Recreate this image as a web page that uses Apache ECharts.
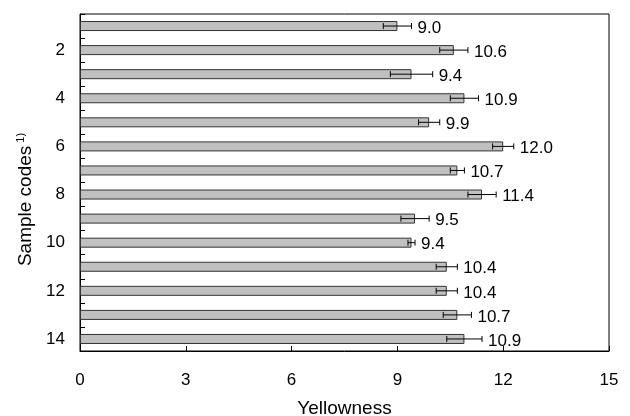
<!DOCTYPE html>
<html>
<head>
<meta charset="utf-8">
<script src="https://cdn.jsdelivr.net/npm/echarts@6/dist/echarts.min.js"></script>
<style>
    html, body { margin: 0; padding: 0; background: #fff; }
    #yellowChart { width: 630px; height: 416px; }
</style>
</head>
<body>
<div id="yellowChart"></div>
<script>
    // sample codes 1..14, mean yellowness and error (half width of bar)
    var sampleCodes = ['1', '2', '3', '4', '5', '6', '7', '8', '9', '10', '11', '12', '13', '14']
    var yellowness = [9.0, 10.6, 9.4, 10.9, 9.9, 12.0, 10.7, 11.4, 9.5, 9.4, 10.4, 10.4, 10.7, 10.9]
    var errors = [0.4, 0.4, 0.6, 0.4, 0.3, 0.3, 0.2, 0.4, 0.4, 0.1, 0.3, 0.3, 0.4, 0.5]
    var xTicks = [0, 3, 6, 9, 12, 15]

    var font = "'Liberation Sans', Arial, sans-serif"

    var errData = yellowness.map(function (v, i) {
        return [v, i, errors[i]]
    })

    var myChart = echarts.init(document.getElementById('yellowChart'))
    var options = {
        animation: false,
        grid: {
            left: 80,
            right: 21,
            top: 14,
            bottom: 65,
            outerBoundsMode: 'none',
            show: true,
            borderColor: '#000',
            borderWidth: 1
        },
        xAxis: {
            type: 'value',
            min: xTicks[0],
            max: xTicks[xTicks.length - 1],
            interval: 3,
            name: 'Yellowness',
            nameLocation: 'middle',
            nameGap: 48,
            nameTextStyle: { fontSize: 19, color: '#000', fontFamily: font },
            axisLine: { show: true, lineStyle: { color: '#000', width: 1 } },
            axisTick: { show: true, inside: true, length: 5, lineStyle: { color: '#000' } },
            axisLabel: { margin: 21, fontSize: 17, color: '#000', fontFamily: font },
            splitLine: { show: false }
        },
        yAxis: {
            type: 'category',
            inverse: true,
            data: sampleCodes,
            name: 'Sample codes{sup|1)}',
            nameLocation: 'middle',
            nameGap: 44,
            nameRotate: 90,
            nameTextStyle: {
                fontSize: 19,
                color: '#000',
                fontFamily: font,
                padding: [0, 34, 0, 0],
                rich: {
                    sup: { fontSize: 11, color: '#000', fontFamily: font, verticalAlign: 'top', padding: [0, 0, 10, 3] }
                }
            },
            axisLine: { show: true, lineStyle: { color: '#000', width: 1 } },
            axisTick: { show: true, inside: true, length: 5, interval: 0, alignWithLabel: false, lineStyle: { color: '#000' } },
            axisLabel: {
                interval: 0,
                margin: 15,
                fontSize: 17,
                color: '#000',
                fontFamily: font,
                formatter: function (value, index) {
                    return index % 2 === 1 ? value : ''
                }
            },
            splitLine: { show: false }
        },
        series: [{
            name: 'Yellowness',
            type: 'bar',
            barWidth: 10,
            data: yellowness,
            itemStyle: {
                color: '#c0c0c0',
                borderColor: '#333',
                borderWidth: 1
            },
            z: 2
        }, {
            // error bars + value labels
            type: 'custom',
            data: errData,
            encode: { x: 0, y: 1 },
            z: 3,
            renderItem: function (params, api) {
                var mean = api.value(0)
                var idx = api.value(1)
                var err = api.value(2)
                var lo = api.coord([mean - err, idx])
                var hi = api.coord([mean + err, idx])
                var cap = 3
                var style = { stroke: '#000', lineWidth: 1 }
                return {
                    type: 'group',
                    children: [{
                        type: 'line',
                        shape: { x1: lo[0], y1: lo[1], x2: hi[0], y2: hi[1] },
                        style: style
                    }, {
                        type: 'line',
                        shape: { x1: lo[0], y1: lo[1] - cap, x2: lo[0], y2: lo[1] + cap },
                        style: style
                    }, {
                        type: 'line',
                        shape: { x1: hi[0], y1: hi[1] - cap, x2: hi[0], y2: hi[1] + cap },
                        style: style
                    }, {
                        type: 'text',
                        x: hi[0] + 6,
                        y: hi[1] + 2,
                        style: {
                            text: mean.toFixed(1),
                            fontSize: 17,
                            fontFamily: font,
                            fill: '#000',
                            verticalAlign: 'middle',
                            align: 'left'
                        }
                    }]
                }
            }
        }]
    }
    myChart.setOption(options)
</script>
</body>
</html>
